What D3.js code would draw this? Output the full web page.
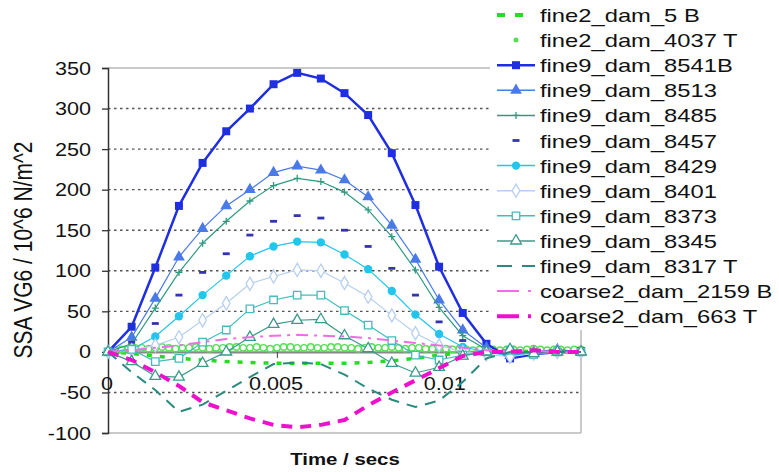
<!DOCTYPE html>
<html>
<head>
<meta charset="utf-8">
<script src="https://cdn.jsdelivr.net/npm/d3@7"></script>
<style>
  body { margin: 0; background: #fff; }
  text { font-family: "Liberation Sans", Arial, sans-serif; fill: #111; }
</style>
</head>
<body>
<svg id="chart" width="779" height="472"></svg>
<script>
// time samples (secs) shared by the fine9 / coarse2 / fine2_5 series
var times = [0, 0.0007, 0.0014, 0.0021, 0.0028, 0.0035, 0.0042, 0.0049, 0.0056, 0.0063,
             0.007, 0.0077, 0.0084, 0.0091, 0.0098, 0.0105, 0.0112, 0.0119, 0.0126, 0.0133, 0.014];

// fine2_dam_4037 T is sampled much more finely
var fineTimes = [0, 0.0002, 0.0004, 0.0006, 0.0008, 0.001, 0.0012, 0.0014, 0.0016, 0.0018,
                 0.002, 0.0022, 0.0024, 0.0026, 0.0028, 0.003, 0.0032, 0.0034, 0.0036, 0.0038,
                 0.004, 0.0042, 0.0044, 0.0046, 0.0048, 0.005, 0.0052, 0.0054, 0.0056, 0.0058,
                 0.006, 0.0062, 0.0064, 0.0066, 0.0068, 0.007, 0.0072, 0.0074, 0.0076, 0.0078,
                 0.008, 0.0082, 0.0084, 0.0086, 0.0088, 0.009, 0.0092, 0.0094, 0.0096, 0.0098,
                 0.01, 0.0102, 0.0104, 0.0106, 0.0108, 0.011, 0.0112, 0.0114, 0.0116, 0.0118,
                 0.012, 0.0122, 0.0124, 0.0126, 0.0128, 0.013, 0.0132, 0.0134, 0.0136, 0.0138,
                 0.014];

var fine2_5B    = [0, -2, -5, -8, -10, -12, -13, -14, -14, -14, -14, -13, -11, -8, -4, -1, 0, 0, 1, 0, 0];
var fine2_4037T = [0, 2, 3, 4, 5, 5, 4, 5, 6, 5,
                   4, 5, 5, 6, 5, 4, 5, 5, 6, 6,
                   5, 5, 6, 5, 4, 5, 6, 6, 5, 5,
                   6, 5, 5, 6, 6, 5, 5, 4, 5, 6,
                   5, 5, 6, 5, 4, 5, 5, 4, 4, 5,
                   4, 3, 4, 3, 2, 3, 4, 3, 2, 3,
                   3, 2, 3, 4, 3, 2, 3, 3, 2, 3,
                   3];
var fine9_8541B = [0, 31, 104, 180, 233, 272, 300, 330, 344, 337, 319, 292, 245, 181, 105, 48, 10, -8, -3, 0, 1];
var fine9_8513  = [0, 18, 66, 117, 152, 180, 200, 221, 229, 224, 212, 191, 156, 114, 64, 27, 5, -5, 0, 3, 0];
var fine9_8485  = [0, 10, 54, 98, 134, 161, 186, 205, 214, 210, 197, 175, 142, 101, 55, 20, 3, -3, 0, 2, 0];
var fine9_8457  = [0, 12, 35, 70, 98, 121, 144, 161, 168, 165, 150, 130, 103, 70, 37, 14, 0, -4, 2, 0, 0];
var fine9_8429  = [0, 3, 19, 44, 70, 94, 118, 130, 136, 135, 120, 102, 75, 46, 22, 6, 0, -5, -2, 0, 0];
var fine9_8401  = [0, 2, 8, 18, 39, 60, 84, 93, 101, 100, 85, 68, 45, 23, 8, 0, -3, -6, -2, 0, 0];
var fine9_8373  = [0, 3, -12, -8, 12, 27, 53, 64, 70, 70, 51, 33, 14, -4, -10, -4, 0, 2, -3, 0, 0];
var fine9_8345  = [0, -12, -30, -31, -14, 0, 18, 34, 39, 40, 20, 4, -14, -26, -19, -5, 0, 3, -2, 0, 0];
var fine9_8317T = [0, -25, -47, -74, -65, -48, -31, -15, -13, -15, -28, -45, -59, -68, -60, -37, -8, 0, 0, 0, 0];
var coarse2_2159B = [0, 2, 5, 8, 12, 16, 18, 20, 21, 20, 19, 17, 14, 11, 8, 5, 2, 0, 2, -1, 0];
var coarse2_663T  = [0, -10, -25, -42, -62, -72, -82, -90, -93, -90, -84, -66, -50, -35, -20, -5, 0, 0, 2, 0, 0];

var seriesNames = ["fine2_dam_5 B", "fine2_dam_4037 T", "fine9_dam_8541B", "fine9_dam_8513",
                   "fine9_dam_8485", "fine9_dam_8457", "fine9_dam_8429", "fine9_dam_8401",
                   "fine9_dam_8373", "fine9_dam_8345", "fine9_dam_8317 T",
                   "coarse2_dam_2159 B", "coarse2_dam_663 T"];

var yTicks = [-100, -50, 0, 50, 100, 150, 200, 250, 300, 350];
var xTickLabels = [0, 0.005, 0.01];

// series table (style per series)
var series = [
    {t: times,     v: fine2_5B,      color: "#22dd22", width: 3.5, dash: "5,8",  marker: null},
    {t: fineTimes, v: fine2_4037T,   color: "#55e055", width: 0,   dash: null,   marker: "ocircle"},
    {t: times,     v: fine9_8541B,   color: "#1f2ee0", width: 2.5, dash: null,   marker: "square"},
    {t: times,     v: fine9_8513,    color: "#4a7ae8", width: 1.2, dash: null,   marker: "triangle"},
    {t: times,     v: fine9_8485,    color: "#2e9a80", width: 1.2, dash: null,   marker: "plus"},
    {t: times,     v: fine9_8457,    color: "#3434b0", width: 0,   dash: null,   marker: "dash"},
    {t: times,     v: fine9_8429,    color: "#22c6ec", width: 1.2, dash: null,   marker: "circle"},
    {t: times,     v: fine9_8401,    color: "#b6cff0", width: 1.2, dash: null,   marker: "diamond"},
    {t: times,     v: fine9_8373,    color: "#44bcbc", width: 1.2, dash: null,   marker: "osquare"},
    {t: times,     v: fine9_8345,    color: "#3a9a8c", width: 1.2, dash: null,   marker: "otriangle"},
    {t: times,     v: fine9_8317T,   color: "#2a8a80", width: 2,   dash: "11,8", marker: null},
    {t: times,     v: coarse2_2159B, color: "#ee6ee6", width: 2,   dash: "12,6,3,6", marker: null},
    {t: times,     v: coarse2_663T,  color: "#ee10cc", width: 4,   dash: "11,8", marker: null}
];
series.forEach(function (s, i) { s.name = seriesNames[i]; });

var svg = d3.select("#chart");

var x = d3.scaleLinear().domain([0, 0.014]).range([108, 581]);
var y = d3.scaleLinear().domain([-100, 350]).range([433, 68]);

// frame + grid
svg.append("line").attr("x1", 108).attr("x2", 581).attr("y1", y(350)).attr("y2", y(350))
    .attr("stroke", "#b8b8b8").attr("stroke-width", 1.5);
svg.append("line").attr("x1", 108).attr("x2", 581).attr("y1", y(-100)).attr("y2", y(-100))
    .attr("stroke", "#b8b8b8").attr("stroke-width", 1.5);
svg.append("line").attr("x1", 581).attr("x2", 581).attr("y1", y(350)).attr("y2", y(-100))
    .attr("stroke", "#b8b8b8").attr("stroke-width", 1.5);

svg.append("g").selectAll("line")
    .data(yTicks.filter(function (d) { return d !== 0 && d !== 350 && d !== -100; }))
    .enter().append("line")
    .attr("x1", 108).attr("x2", 581)
    .attr("y1", function (d) { return y(d); })
    .attr("y2", function (d) { return y(d); })
    .attr("stroke", "#555").attr("stroke-width", 1.4)
    .attr("stroke-dasharray", "2.5,3.5");

// y axis
var yAxis = svg.append("g").attr("transform", "translate(108,0)")
    .call(d3.axisLeft(y).tickValues(yTicks).tickSize(6).tickFormat(""));
yAxis.select(".domain").attr("stroke", "#333").attr("stroke-width", 1.5);
yAxis.selectAll(".tick line").attr("stroke", "#333").attr("stroke-width", 1.3);

svg.append("g").selectAll("text")
    .data(yTicks).enter().append("text")
    .attr("transform", function (d) { return "translate(91," + (y(d) + 6.5) + ") scale(1.2,1)"; })
    .attr("text-anchor", "end")
    .attr("font-size", 18)
    .text(function (d) { return d; });

// x axis on the zero line
var xAxis = svg.append("g").attr("transform", "translate(0," + y(0) + ")")
    .call(d3.axisBottom(x).tickValues([0.005, 0.01]).tickSize(6).tickSizeOuter(0).tickFormat(""));
xAxis.select(".domain").attr("stroke", "#888").attr("stroke-width", 2.2);
xAxis.selectAll(".tick line").attr("stroke", "#555").attr("stroke-width", 1.2);

svg.append("g").selectAll("text")
    .data(xTickLabels).enter().append("text")
    .attr("transform", function (d) { return "translate(" + (x(d) - 1) + ",390) scale(1.2,1)"; })
    .attr("text-anchor", "middle")
    .attr("font-size", 18)
    .text(function (d) { return d; });

// axis titles
svg.append("text")
    .attr("transform", "translate(32,250) scale(1.2,1) rotate(-90)")
    .attr("text-anchor", "middle")
    .attr("font-size", 21)
    .text("SSA VG6 / 10^6 N/m^2");

svg.append("text")
    .attr("transform", "translate(345,465) scale(1.2,1)")
    .attr("text-anchor", "middle")
    .attr("font-size", 17)
    .attr("font-weight", "bold")
    .text("Time / secs");

// markers
function drawMarker(g, type, color) {
    if (type === "square") {
        g.append("path").attr("d", d3.symbol(d3.symbolSquare, 64)())
            .attr("fill", color);
    } else if (type === "osquare") {
        g.append("path").attr("d", d3.symbol(d3.symbolSquare, 56)())
            .attr("fill", "#fff").attr("stroke", color).attr("stroke-width", 1.3);
    } else if (type === "triangle") {
        g.append("path").attr("d", d3.symbol(d3.symbolTriangle, 60)())
            .attr("fill", color);
    } else if (type === "otriangle") {
        g.append("path").attr("d", d3.symbol(d3.symbolTriangle, 50)())
            .attr("fill", "#fff").attr("stroke", color).attr("stroke-width", 1.3);
    } else if (type === "circle") {
        g.append("circle").attr("r", 4.2).attr("fill", color);
    } else if (type === "ocircle") {
        g.append("circle").attr("r", 3.2).attr("fill", "none")
            .attr("stroke", color).attr("stroke-width", 1.4);
    } else if (type === "diamond") {
        g.append("path").attr("d", d3.symbol(d3.symbolDiamond, 50)())
            .attr("fill", "#fff").attr("stroke", color).attr("stroke-width", 1.3);
    } else if (type === "plus") {
        g.append("path").attr("d", "M-3.5,0H3.5M0,-3.5V3.5")
            .attr("stroke", color).attr("stroke-width", 1.3);
    } else if (type === "dash") {
        g.append("path").attr("d", "M-3.5,0H3.5")
            .attr("stroke", color).attr("stroke-width", 2.8);
    }
}

var line = d3.line()
    .x(function (d) { return x(d[0]); })
    .y(function (d) { return y(d[1]); });

var plot = svg.append("g");
series.forEach(function (s) {
    var pts = s.t.map(function (t, i) { return [t, s.v[i]]; });
    if (s.width > 0) {
        plot.append("path")
            .attr("d", line(pts))
            .attr("fill", "none")
            .attr("stroke", s.color)
            .attr("stroke-width", s.width)
            .attr("stroke-dasharray", s.dash);
    }
    if (s.marker) {
        plot.append("g").selectAll("g")
            .data(pts).enter().append("g")
            .attr("transform", function (d) { return "translate(" + x(d[0]) + "," + y(d[1]) + ")"; })
            .each(function () { drawMarker(d3.select(this), s.marker, s.color); });
    }
});

// legend (white box covering the right part of the plot)
var legend = svg.append("g");
legend.append("rect").attr("x", 490).attr("y", 0).attr("width", 289).attr("height", 330)
    .attr("fill", "#fff");

series.forEach(function (s, i) {
    var ly = 15 + i * 25.1;
    var row = legend.append("g");
    if (i === 0) {
        row.append("line").attr("x1", 497).attr("x2", 524).attr("y1", ly).attr("y2", ly)
            .attr("stroke", s.color).attr("stroke-width", 4).attr("stroke-dasharray", "8,10");
    } else if (s.width > 0) {
        row.append("line").attr("x1", 497).attr("x2", 535).attr("y1", ly).attr("y2", ly)
            .attr("stroke", s.color)
            .attr("stroke-width", s.dash ? s.width : Math.max(s.width, 1.5))
            .attr("stroke-dasharray", i === 10 ? "15,10" : (s.dash ? "22,9,3,20" : null));
    }
    if (s.marker) {
        var mg = row.append("g").attr("transform", "translate(516," + ly + ")");
        if (s.marker === "ocircle") {
            mg.append("circle").attr("r", 2.5).attr("fill", s.color);
        } else {
            drawMarker(mg, s.marker, s.color);
        }
    }
    row.append("text")
        .attr("transform", "translate(540," + (ly + 7) + ") scale(1.25,1)")
        .attr("font-size", 19)
        .text(s.name);
});
</script>
</body>
</html>
